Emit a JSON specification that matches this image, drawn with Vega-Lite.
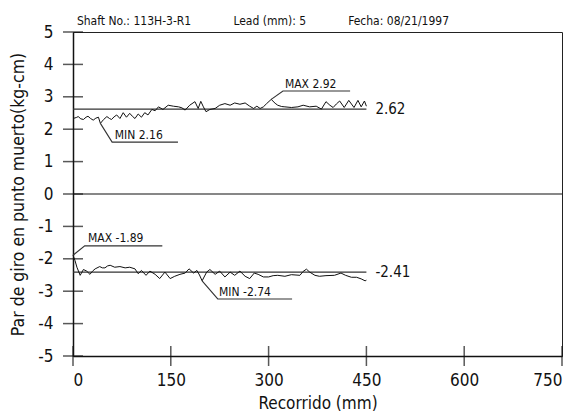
{
  "$schema": "https://vega.github.io/schema/vega-lite/v6.json",
  "width": 489,
  "height": 324,
  "autosize": {"type": "none"},
  "padding": {"left": 73, "top": 32, "right": 11, "bottom": 63},
  "background": "white",
  "config": {
    "view": {"stroke": "#222", "strokeWidth": 1},
    "axis": {
      "domainColor": "#111", "domainWidth": 1.5, "ticks": false, "tickSize": 0, "grid": false,
      "labelFont": "DejaVu Sans Condensed", "labelFontSize": 17, "labelColor": "#111",
      "titleFont": "DejaVu Sans Condensed", "titleFontWeight": "normal", "titleColor": "#111"
    },
    "text": {"font": "DejaVu Sans Condensed", "color": "#111"}
  },
  "datasets": {
    "series": [
      {"s":"u","x":0,"v":2.33},{"s":"u","x":5,"v":2.36},{"s":"u","x":8,"v":2.39},{"s":"u","x":12,"v":2.32},{"s":"u","x":16,"v":2.30},{"s":"u","x":20,"v":2.37},{"s":"u","x":23,"v":2.40},{"s":"u","x":27,"v":2.33},{"s":"u","x":31,"v":2.28},{"s":"u","x":35,"v":2.34},{"s":"u","x":39,"v":2.37},{"s":"u","x":42,"v":2.18},{"s":"u","x":47,"v":2.30},{"s":"u","x":52,"v":2.39},{"s":"u","x":56,"v":2.33},{"s":"u","x":59,"v":2.30},{"s":"u","x":63,"v":2.38},{"s":"u","x":67,"v":2.44},{"s":"u","x":72,"v":2.33},{"s":"u","x":77,"v":2.51},{"s":"u","x":82,"v":2.37},{"s":"u","x":87,"v":2.49},{"s":"u","x":91,"v":2.40},{"s":"u","x":95,"v":2.33},{"s":"u","x":100,"v":2.47},{"s":"u","x":105,"v":2.37},{"s":"u","x":110,"v":2.51},{"s":"u","x":115,"v":2.44},{"s":"u","x":121,"v":2.61},{"s":"u","x":126,"v":2.57},{"s":"u","x":131,"v":2.69},{"s":"u","x":138,"v":2.61},{"s":"u","x":146,"v":2.74},{"s":"u","x":154,"v":2.71},{"s":"u","x":162,"v":2.69},{"s":"u","x":167,"v":2.66},{"s":"u","x":172,"v":2.59},{"s":"u","x":179,"v":2.74},{"s":"u","x":187,"v":2.85},{"s":"u","x":192,"v":2.64},{"s":"u","x":196,"v":2.86},{"s":"u","x":200,"v":2.69},{"s":"u","x":204,"v":2.54},{"s":"u","x":210,"v":2.61},{"s":"u","x":218,"v":2.64},{"s":"u","x":225,"v":2.74},{"s":"u","x":233,"v":2.79},{"s":"u","x":241,"v":2.74},{"s":"u","x":248,"v":2.81},{"s":"u","x":256,"v":2.77},{"s":"u","x":264,"v":2.81},{"s":"u","x":271,"v":2.71},{"s":"u","x":277,"v":2.64},{"s":"u","x":282,"v":2.71},{"s":"u","x":287,"v":2.64},{"s":"u","x":292,"v":2.69},{"s":"u","x":297,"v":2.79},{"s":"u","x":304,"v":2.92},{"s":"u","x":310,"v":2.80},{"s":"u","x":314,"v":2.74},{"s":"u","x":320,"v":2.70},{"s":"u","x":325,"v":2.69},{"s":"u","x":335,"v":2.67},{"s":"u","x":345,"v":2.69},{"s":"u","x":353,"v":2.74},{"s":"u","x":363,"v":2.69},{"s":"u","x":373,"v":2.71},{"s":"u","x":381,"v":2.62},{"s":"u","x":388,"v":2.85},{"s":"u","x":394,"v":2.74},{"s":"u","x":399,"v":2.67},{"s":"u","x":404,"v":2.78},{"s":"u","x":409,"v":2.87},{"s":"u","x":416,"v":2.67},{"s":"u","x":423,"v":2.89},{"s":"u","x":431,"v":2.67},{"s":"u","x":437,"v":2.89},{"s":"u","x":442,"v":2.69},{"s":"u","x":447,"v":2.87},{"s":"u","x":450,"v":2.71},
      {"s":"l","x":0,"v":-1.89},{"s":"l","x":3,"v":-2.05},{"s":"l","x":6,"v":-2.26},{"s":"l","x":11,"v":-2.51},{"s":"l","x":16,"v":-2.33},{"s":"l","x":21,"v":-2.38},{"s":"l","x":26,"v":-2.48},{"s":"l","x":30,"v":-2.38},{"s":"l","x":34,"v":-2.31},{"s":"l","x":41,"v":-2.24},{"s":"l","x":45,"v":-2.28},{"s":"l","x":49,"v":-2.28},{"s":"l","x":53,"v":-2.22},{"s":"l","x":57,"v":-2.20},{"s":"l","x":64,"v":-2.26},{"s":"l","x":72,"v":-2.24},{"s":"l","x":80,"v":-2.28},{"s":"l","x":87,"v":-2.26},{"s":"l","x":95,"v":-2.31},{"s":"l","x":100,"v":-2.46},{"s":"l","x":105,"v":-2.36},{"s":"l","x":112,"v":-2.51},{"s":"l","x":118,"v":-2.38},{"s":"l","x":126,"v":-2.48},{"s":"l","x":133,"v":-2.61},{"s":"l","x":141,"v":-2.41},{"s":"l","x":149,"v":-2.61},{"s":"l","x":156,"v":-2.54},{"s":"l","x":164,"v":-2.48},{"s":"l","x":172,"v":-2.44},{"s":"l","x":178,"v":-2.31},{"s":"l","x":185,"v":-2.44},{"s":"l","x":190,"v":-2.36},{"s":"l","x":194,"v":-2.50},{"s":"l","x":198,"v":-2.68},{"s":"l","x":205,"v":-2.41},{"s":"l","x":210,"v":-2.33},{"s":"l","x":218,"v":-2.48},{"s":"l","x":225,"v":-2.38},{"s":"l","x":233,"v":-2.56},{"s":"l","x":241,"v":-2.41},{"s":"l","x":248,"v":-2.51},{"s":"l","x":256,"v":-2.38},{"s":"l","x":264,"v":-2.54},{"s":"l","x":271,"v":-2.61},{"s":"l","x":278,"v":-2.44},{"s":"l","x":284,"v":-2.48},{"s":"l","x":292,"v":-2.56},{"s":"l","x":300,"v":-2.56},{"s":"l","x":307,"v":-2.52},{"s":"l","x":314,"v":-2.51},{"s":"l","x":325,"v":-2.54},{"s":"l","x":335,"v":-2.49},{"s":"l","x":348,"v":-2.51},{"s":"l","x":353,"v":-2.39},{"s":"l","x":358,"v":-2.32},{"s":"l","x":363,"v":-2.41},{"s":"l","x":371,"v":-2.51},{"s":"l","x":378,"v":-2.54},{"s":"l","x":388,"v":-2.52},{"s":"l","x":401,"v":-2.51},{"s":"l","x":411,"v":-2.44},{"s":"l","x":418,"v":-2.51},{"s":"l","x":427,"v":-2.57},{"s":"l","x":435,"v":-2.57},{"s":"l","x":442,"v":-2.62},{"s":"l","x":448,"v":-2.68},{"s":"l","x":450,"v":-2.66}
    ],
    "guides": [
      {"id":"meanU","i":0,"x":0,"v":2.62},{"id":"meanU","i":1,"x":450,"v":2.62},
      {"id":"meanL","i":0,"x":0,"v":-2.41},{"id":"meanL","i":1,"x":450,"v":-2.41},
      {"id":"maxU","i":0,"x":304,"v":2.92},{"id":"maxU","i":1,"x":322,"v":3.18},{"id":"maxU","i":2,"x":425,"v":3.18},
      {"id":"minU","i":0,"x":42,"v":2.18},{"id":"minU","i":1,"x":60,"v":1.60},{"id":"minU","i":2,"x":161,"v":1.60},
      {"id":"maxL","i":0,"x":0,"v":-1.89},{"id":"maxL","i":1,"x":18,"v":-1.60},{"id":"maxL","i":2,"x":137,"v":-1.60},
      {"id":"minL","i":0,"x":198,"v":-2.68},{"id":"minL","i":1,"x":222,"v":-3.24},{"id":"minL","i":2,"x":336,"v":-3.24}
    ],
    "notes": [
      {"t":"Shaft No.: 113H-3-R1","x":6,"v":5.22},
      {"t":"Lead (mm): 5","x":246,"v":5.22},
      {"t":"Fecha: 08/21/1997","x":422,"v":5.22},
      {"t":"MAX 2.92","x":325,"v":3.27},
      {"t":"MIN 2.16","x":64,"v":1.70},
      {"t":"MAX -1.89","x":23,"v":-1.49},
      {"t":"MIN -2.74","x":224,"v":-3.14}
    ],
    "means": [
      {"t":"2.62","x":450,"v":2.62},
      {"t":"-2.41","x":450,"v":-2.41}
    ],
    "zero": [{"x":0,"x2":750,"v":0}],
    "xticks": [{"x":0,"v":-5},{"x":150,"v":-5},{"x":300,"v":-5},{"x":450,"v":-5},{"x":600,"v":-5},{"x":750,"v":-5}],
    "yticks": [{"x":0,"v":-5},{"x":0,"v":-4},{"x":0,"v":-3},{"x":0,"v":-2},{"x":0,"v":-1},{"x":0,"v":0},{"x":0,"v":1},{"x":0,"v":2},{"x":0,"v":3},{"x":0,"v":4},{"x":0,"v":5}]
  },
  "encoding": {
    "x": {
      "field": "x", "type": "quantitative",
      "scale": {"domain": [0, 750], "nice": false, "zero": false},
      "axis": {"values": [0, 150, 300, 450, 600, 750], "labelPadding": 16, "labelAngle": 0, "title": "Recorrido (mm)", "titleFontSize": 17, "titlePadding": 7}
    },
    "y": {
      "field": "v", "type": "quantitative",
      "scale": {"domain": [-5, 5], "nice": false, "zero": false},
      "axis": {"values": [-5, -4, -3, -2, -1, 0, 1, 2, 3, 4, 5], "labelExpr": "'' + datum.value", "labelPadding": 20, "title": "Par de giro en punto muerto(kg-cm)", "titleFontSize": 17.5, "titlePadding": 10}
    }
  },
  "layer": [
    {"data": {"name": "zero"}, "mark": {"type": "rule", "color": "#111", "strokeWidth": 1.2}, "encoding": {"x2": {"field": "x2"}}},
    {"data": {"name": "xticks"}, "mark": {"type": "tick", "orient": "vertical", "size": 20, "thickness": 1.5, "color": "#111"}},
    {"data": {"name": "yticks"}, "mark": {"type": "tick", "orient": "horizontal", "size": 20, "thickness": 1.5, "color": "#111"}},
    {"data": {"name": "guides"}, "mark": {"type": "line", "color": "#333", "strokeWidth": 1.1}, "encoding": {"detail": {"field": "id"}, "order": {"field": "i", "type": "quantitative"}}},
    {"data": {"name": "series"}, "mark": {"type": "line", "color": "#111", "strokeWidth": 1}, "encoding": {"detail": {"field": "s"}}},
    {"data": {"name": "notes"}, "mark": {"type": "text", "align": "left", "baseline": "alphabetic", "fontSize": 12}, "encoding": {"text": {"field": "t"}}},
    {"data": {"name": "means"}, "mark": {"type": "text", "align": "left", "baseline": "middle", "dx": 9, "fontSize": 15}, "encoding": {"text": {"field": "t"}}}
  ]
}
